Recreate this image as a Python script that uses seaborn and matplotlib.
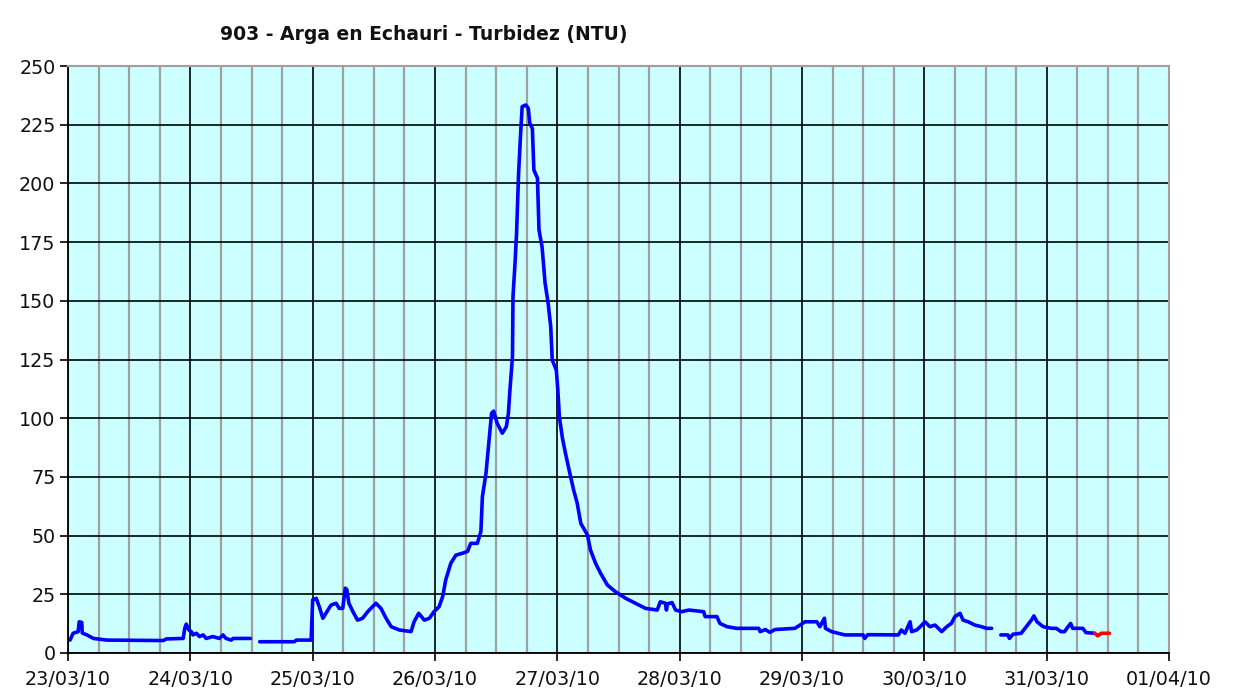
import matplotlib
matplotlib.use("Agg")
import matplotlib.pyplot as plt
import matplotlib.dates as mdates
import seaborn as sns
import pandas as pd

# Turbidity readings (NTU), time in hours from 23/03/10 00:00
hours_1 = [0.4, 1.0, 2.0, 2.2, 2.7, 2.8, 3.7, 5.0, 7.6, 18.7, 19.3, 22.6, 22.9, 23.2,
           23.7, 24.2, 24.5, 25.2, 25.8, 26.5, 27.1, 28.4, 29.7, 30.4, 31.0, 32.0, 32.4, 35.8]
ntu_1 = [5.5, 8.4, 9.1, 13.3, 13.0, 8.5, 7.7, 6.2, 5.5, 5.3, 6.0, 6.2, 10.5, 12.3,
         9.8, 9.1, 7.7, 8.4, 7.0, 7.7, 6.2, 7.0, 6.2, 7.7, 6.2, 5.5, 6.2, 6.2]

hours_2 = [37.6, 44.4, 44.8, 47.7, 48.0, 48.7, 49.3, 50.0, 50.6, 51.6, 52.6, 53.2, 53.9,
           54.4, 54.7, 55.1, 55.9, 56.8, 57.8, 58.8, 60.4, 61.4, 62.4, 63.4, 65.0, 67.3,
           67.9, 68.8, 69.9, 70.9, 71.8, 72.8, 73.5, 74.1, 75.1, 76.1, 77.4, 78.4, 79.0,
           80.3, 81.0, 81.3, 82.0, 82.6, 83.1, 83.5, 84.2, 85.2, 86.0, 86.4, 86.7, 87.2,
           87.3, 87.7, 88.0, 88.4, 88.8, 89.1, 89.8, 90.3, 90.6, 91.1, 91.4, 92.1, 92.4,
           93.0, 93.6, 94.2, 94.7, 95.0, 95.8, 96.1, 96.4, 97.0, 97.6, 98.6, 99.2, 99.9,
           100.6, 101.9, 102.5, 103.5, 104.5, 105.8, 107.4, 109.4, 111.3, 113.3, 115.6,
           116.2, 117.2, 117.4, 117.6, 118.5, 119.2, 120.4, 121.8, 123.1, 124.7, 125.0,
           127.3, 127.9, 129.3, 131.2, 135.5, 135.8, 136.8, 137.7, 138.7, 142.6, 143.6,
           144.6, 146.9, 147.5, 148.4, 148.6, 149.8, 152.4, 156.0, 156.3, 156.9, 162.9,
           163.5, 164.2, 165.2, 165.5, 166.5, 167.2, 168.1, 169.1, 170.1, 171.4, 172.4,
           173.3, 174.0, 175.0, 175.6, 176.6, 177.9, 179.2, 180.2, 181.2]
ntu_2 = [4.8, 4.8, 5.5, 5.5, 22.6, 23.3, 19.7, 14.8, 16.9, 20.4, 21.2, 19.0, 19.0,
         27.6, 27.0, 21.2, 17.6, 14.0, 14.8, 17.6, 21.2, 19.0, 14.8, 11.2, 9.8, 9.1,
         13.3, 16.9, 14.0, 14.8, 17.6, 19.7, 24.0, 31.1, 38.2, 41.7, 42.5, 43.3, 46.7,
         46.7, 51.7, 66.6, 76.5, 90.7, 102.1, 103.0, 97.8, 93.6, 96.4, 102.1, 112.0, 126.2,
         151.8, 166.0, 178.7, 204.3, 221.3, 232.7, 233.4, 232.0, 225.6, 223.4, 205.7, 202.2, 180.2,
         173.0, 157.5, 148.9, 139.0, 124.8, 120.5, 112.0, 100.6, 91.5, 85.0, 75.1, 69.4, 63.8,
         55.2, 50.3, 43.9, 38.2, 33.9, 29.0, 26.1, 23.3, 21.2, 19.0, 18.3,
         21.8, 21.2, 18.3, 20.9, 21.5, 18.3, 17.6, 18.3, 18.0, 17.6, 15.5,
         15.5, 12.6, 11.2, 10.5, 10.5, 9.1, 10.0, 8.8, 10.0, 10.5, 11.9,
         13.3, 13.3, 11.2, 14.8, 10.5, 9.1, 7.7, 7.7, 6.2, 7.8, 7.7,
         9.8, 8.4, 13.3, 9.1, 9.8, 11.2, 13.3, 11.2, 11.9, 9.1, 11.2,
         12.6, 15.5, 16.9, 14.0, 13.3, 11.9, 11.2, 10.5, 10.5]

hours_3 = [183.0, 184.4, 184.7, 185.4, 187.0, 188.0, 189.0, 189.5, 190.1, 191.3, 192.9,
           193.9, 194.8, 195.5, 196.2, 196.7, 197.1, 199.1, 199.7, 201.4]
ntu_3 = [7.7, 7.7, 6.2, 8.0, 8.4, 11.2, 14.0, 15.8, 13.3, 11.2, 10.5,
         10.5, 9.1, 9.1, 11.2, 12.6, 10.5, 10.5, 8.7, 8.4]

# provisional (red) readings
hours_red = [201.4, 201.6, 202.0, 202.7, 204.3]
ntu_red = [8.4, 8.1, 7.3, 8.4, 8.4]

start = pd.Timestamp("2010-03-23")
frames = []
for k, (h, v) in enumerate([(hours_1, ntu_1), (hours_2, ntu_2), (hours_3, ntu_3)]):
    frames.append(pd.DataFrame({"fecha": start + pd.to_timedelta(h, unit="h"),
                                "ntu": v, "tramo": k}))
df = pd.concat(frames, ignore_index=True)
df_red = pd.DataFrame({"fecha": start + pd.to_timedelta(hours_red, unit="h"),
                       "ntu": ntu_red, "tramo": 0})

sns.set_theme(style="white")
plt.rcParams["font.family"] = ["DejaVu Sans"]

fig = plt.figure(figsize=(12.51, 6.95), dpi=100)
ax = fig.add_axes([68 / 1251, 42 / 695, 1101 / 1251, 587 / 695])
ax.set_facecolor("#ccffff")

sns.lineplot(data=df, x="fecha", y="ntu", units="tramo", estimator=None,
             color="#0000ff", linewidth=2.6, ax=ax)
sns.lineplot(data=df_red, x="fecha", y="ntu", units="tramo", estimator=None,
             color="#ff0000", linewidth=2.6, ax=ax)

ax.set_xlim(start, pd.Timestamp("2010-04-01"))
ax.set_ylim(0, 250)
ax.set_yticks(range(0, 251, 25))
ax.xaxis.set_major_locator(mdates.DayLocator())
ax.xaxis.set_minor_locator(mdates.HourLocator(byhour=[6, 12, 18]))
ax.xaxis.set_major_formatter(mdates.DateFormatter("%d/%m/%y"))

ax.set_axisbelow(True)
ax.grid(which="minor", axis="x", color="#a0a0a0", linewidth=1.6)
ax.grid(which="major", axis="both", color="black", linewidth=1.2)

ax.tick_params(which="major", direction="out", length=6, width=1.2, color="black",
               labelsize=13.8, labelcolor="#111111", bottom=True, left=True)
ax.tick_params(axis="x", which="major", pad=6)
ax.tick_params(axis="y", which="major", pad=3)
ax.tick_params(which="minor", length=0)

for side in ["left", "bottom"]:
    ax.spines[side].set_color("black")
    ax.spines[side].set_linewidth(1.3)
for side in ["top", "right"]:
    ax.spines[side].set_color("#a0a0a0")
    ax.spines[side].set_linewidth(1.5)

ax.set_xlabel("")
ax.set_ylabel("")

fig.text(424 / 1251, 1 - 35 / 695, "903 - Arga en Echauri - Turbidez (NTU)",
         ha="center", va="center", fontsize=13.5, fontweight="bold", color="#111111")

fig.savefig("out.png", dpi=100, facecolor="white")
